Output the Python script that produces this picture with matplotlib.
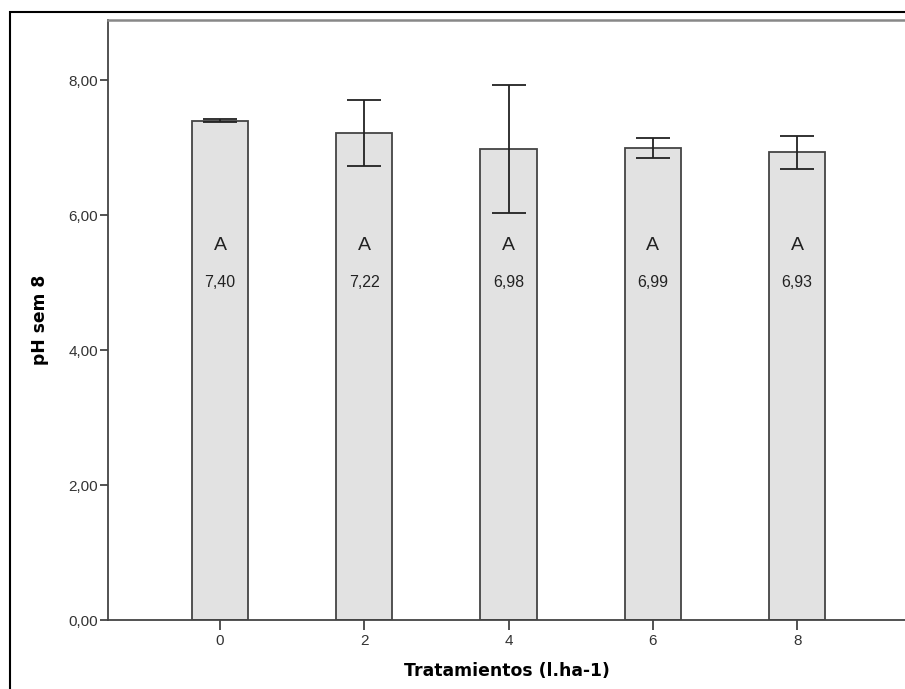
import matplotlib.pyplot as plt
from matplotlib.patches import Rectangle

# Data
tratamientos = ['0', '2', '4', '6', '8']
ph_medias = [7.40, 7.22, 6.98, 6.99, 6.93]
ic_superior = [7.42, 7.71, 7.92, 7.14, 7.17]
ic_inferior = [7.38, 6.72, 6.03, 6.84, 6.68]
letras = ['A', 'A', 'A', 'A', 'A']
y_ticks = [0, 2, 4, 6, 8]

fig = plt.figure(figsize=(9.05, 6.89), dpi=100)
ax = fig.add_axes([108 / 905, 69 / 689, 1 - 108 / 905, 600 / 689])

# outer frame of the SPSS output
fig.patches.append(Rectangle((10 / 905, -0.1), 1.2, 0.1 + (689 - 12) / 689,
                             transform=fig.transFigure, fill=False,
                             edgecolor='black', linewidth=1.5))

x = list(range(len(tratamientos)))
ax.bar(x, ph_medias, width=0.39, color='#e2e2e2', edgecolor='#444444', linewidth=1.3, zorder=2)

err_lo = [m - lo for m, lo in zip(ph_medias, ic_inferior)]
err_hi = [hi - m for m, hi in zip(ph_medias, ic_superior)]
ax.errorbar(x, ph_medias, yerr=[err_lo, err_hi], fmt='none', ecolor='#222222',
            elinewidth=1.3, capsize=12.5, capthick=1.3, zorder=3)

for xi, letra, m in zip(x, letras, ph_medias):
    ax.text(xi, 5.55, letra, ha='center', va='center', fontsize=14,
            color='#222222', family='Liberation Sans')
    ax.text(xi, 5.0, f'{m:.2f}'.replace('.', ','), ha='center', va='center',
            fontsize=11.5, color='#222222', family='Liberation Sans')

ax.set_xlim(-0.776, 4.747)
ax.set_ylim(0, 8.89)
ax.set_xticks(x)
ax.set_xticklabels(tratamientos)
ax.set_yticks(y_ticks)
ax.set_yticklabels([f'{v:.2f}'.replace('.', ',') for v in y_ticks])

for lab in ax.get_xticklabels() + ax.get_yticklabels():
    lab.set_family('Liberation Sans')
    lab.set_fontsize(11)
    lab.set_color('#333333')

ax.tick_params(axis='y', length=6, width=1.3, color='#444444', pad=1)
ax.tick_params(axis='x', length=7, width=1.3, color='#444444', pad=3)

for side in ['left', 'bottom']:
    ax.spines[side].set_color('#444444')
    ax.spines[side].set_linewidth(1.3)
ax.spines['top'].set_color('#888888')
ax.spines['top'].set_linewidth(1.8)
ax.spines['right'].set_visible(False)

ax.set_xlabel('Tratamientos (l.ha-1)', fontsize=12.4, fontweight='bold', labelpad=10)
ax.set_ylabel('pH sem 8', fontsize=12.3, fontweight='bold', labelpad=14)

plt.savefig('out.png', dpi=100)
